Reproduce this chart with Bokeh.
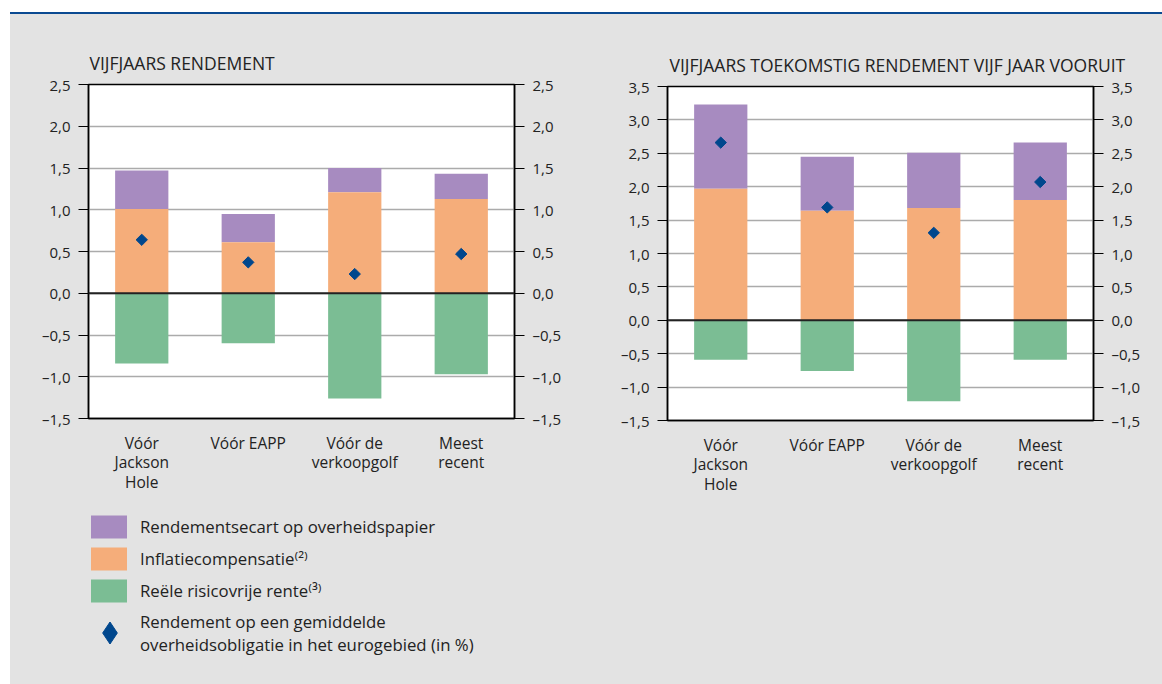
import numpy as np
from bokeh.plotting import figure
from bokeh.models import (ColumnDataSource, FactorRange, Range1d, LinearAxis, FixedTicker,
                          CustomJSTickFormatter, Span, Legend, LegendItem, Spacer)
from bokeh.layouts import row, column
from bokeh.embed import file_html
from bokeh.resources import INLINE

# ---------------- data ----------------
categories = ["Vóór\nJackson\nHole", "Vóór EAPP", "Vóór de\nverkoopgolf", "Meest\nrecent"]

left_title = "VIJFJAARS RENDEMENT"
left_spread = [0.46, 0.34, 0.29, 0.30]
left_inflation = [1.01, 0.61, 1.21, 1.13]
left_real = [-0.84, -0.60, -1.26, -0.97]
left_yield = [0.64, 0.37, 0.23, 0.47]
left_ticks = [-1.5, -1.0, -0.5, 0.0, 0.5, 1.0, 1.5, 2.0, 2.5]

right_title = "VIJFJAARS TOEKOMSTIG RENDEMENT VIJF JAAR VOORUIT"
right_spread = [1.26, 0.81, 0.83, 0.86]
right_inflation = [1.97, 1.64, 1.68, 1.80]
right_real = [-0.59, -0.76, -1.21, -0.59]
right_yield = [2.66, 1.69, 1.31, 2.07]
right_ticks = [-1.5, -1.0, -0.5, 0.0, 0.5, 1.0, 1.5, 2.0, 2.5, 3.0, 3.5]

legend_labels = [
    "Rendementsecart op overheidspapier",
    "Inflatiecompensatie\u207d\u00b2\u207e",
    "Reële risicovrije rente\u207d\u00b3\u207e",
    "Rendement op een gemiddelde\noverheidsobligatie in het eurogebied (in %)",
]

# ---------------- style ----------------
PURPLE = "#a78bc0"
ORANGE = "#f5ad7a"
GREEN = "#7bbd94"
BLUE = "#00478d"
BG = "#e3e3e3"
TXT = "#222222"
FONT = "Open Sans"

fmt_code = "return tick.toFixed(1).replace('.', ',').replace('-', '\u2013');"


def make_source(spread, inflation, real, yld):
    infl = np.array(inflation)
    total = infl + np.array(spread)
    return ColumnDataSource(dict(x=categories, inflation=infl, total=total,
                                 real=real, yld=yld))


def add_marks(p, src, visible=True):
    r1 = p.vbar(x="x", bottom="inflation", top="total", width=0.5, source=src,
                fill_color=PURPLE, line_color=None, visible=visible)
    r2 = p.vbar(x="x", bottom=0, top="inflation", width=0.5, source=src,
                fill_color=ORANGE, line_color=None, visible=visible)
    r3 = p.vbar(x="x", bottom=0, top="real", width=0.5, source=src,
                fill_color=GREEN, line_color=None, visible=visible)
    return [r1, r2, r3]


def make_chart(title, src, ticks, borders, title_offset):
    bl, br, bt, bb = borders
    p = figure(x_range=FactorRange(*categories), y_range=Range1d(ticks[0], ticks[-1]),
               frame_width=426, frame_height=334,
               min_border_left=bl, min_border_right=br, min_border_top=bt, min_border_bottom=bb,
               output_backend="svg", toolbar_location=None,
               background_fill_color="white", border_fill_color=BG,
               outline_line_color="black", outline_line_width=1.5)
    p.title.text = title
    p.title.align = "left"
    p.title.text_font = FONT
    p.title.text_font_size = "17.5px"
    p.title.text_font_style = "normal"
    p.title.text_color = TXT
    p.title.standoff = 19
    p.title.offset = title_offset

    add_marks(p, src)
    p.add_layout(Span(location=0, dimension="width", line_color="#222222", line_width=2))
    p.scatter(x="x", y="yld", source=src, marker="square", angle=np.pi / 4, size=8,
              fill_color=BLUE, line_color=BLUE)

    p.xgrid.grid_line_color = None
    p.ygrid.ticker = FixedTicker(ticks=ticks)
    p.ygrid.grid_line_color = "#ababab"
    p.ygrid.grid_line_width = 1.5

    yl = p.yaxis[0]
    yr = LinearAxis()
    p.add_layout(yr, "right")
    for ax in (yl, yr):
        ax.ticker = FixedTicker(ticks=ticks)
        ax.formatter = CustomJSTickFormatter(code=fmt_code)
        ax.axis_line_color = "black"
        ax.axis_line_width = 1.5
        ax.major_tick_line_color = "black"
        ax.major_tick_line_width = 1
        ax.major_tick_out = 10
        ax.major_tick_in = 0
        ax.minor_tick_line_color = None
        ax.major_label_text_font = FONT
        ax.major_label_text_font_size = "15px"
        ax.major_label_text_color = TXT
        ax.major_label_standoff = 8

    xa = p.xaxis[0]
    xa.axis_line_color = "black"
    xa.axis_line_width = 1.5
    xa.major_tick_line_color = None
    xa.minor_tick_line_color = None
    xa.major_label_text_font = FONT
    xa.major_label_text_font_size = "15.5px"
    xa.major_label_text_color = TXT
    xa.major_label_text_line_height = 0.9
    xa.major_label_standoff = 7
    return p


left_src = make_source(left_spread, left_inflation, left_real, left_yield)
right_src = make_source(right_spread, right_inflation, right_real, right_yield)
left = make_chart(left_title, left_src, left_ticks, (78, 76, 70, 81), 1)
right = make_chart(right_title, right_src, right_ticks, (77, 69, 72, 264), 2)

# ---------------- legend panel ----------------
lf = figure(width=580, height=185, x_range=FactorRange(*categories), y_range=Range1d(0, 1),
            x_axis_type=None, y_axis_type=None, min_border=0,
            output_backend="svg", toolbar_location=None,
            background_fill_color=BG, border_fill_color=BG, outline_line_color=None)
lf.xgrid.grid_line_color = None
lf.ygrid.grid_line_color = None
proxies = add_marks(lf, left_src, visible=False)
proxies.append(lf.scatter(x="x", y="yld", source=left_src, marker="diamond",
                          fill_color=BLUE, line_color=BLUE, visible=False))


def style_legend(lg, gw, gh, spacing, standoff, loc):
    lg.location = loc
    lg.orientation = "vertical"
    lg.glyph_width = gw
    lg.glyph_height = gh
    lg.spacing = spacing
    lg.label_standoff = standoff
    lg.padding = 0
    lg.margin = 0
    lg.background_fill_alpha = 0
    lg.border_line_alpha = 0
    lg.inactive_fill_alpha = 0
    lg.label_text_font = FONT
    lg.label_text_font_size = "16.8px"
    lg.label_text_color = TXT
    lg.label_text_line_height = 1.0


leg1 = Legend(items=[LegendItem(label=legend_labels[i], renderers=[proxies[i]]) for i in range(3)])
style_legend(leg1, 45, 29, 3, 9, (-2, 79))
lf.add_layout(leg1)
leg2 = Legend(items=[LegendItem(label=legend_labels[3], renderers=[proxies[3]])])
style_legend(leg2, 55, 55, 0, 3, (-6, 24))
lf.add_layout(leg2)

blue_bar = Spacer(width=1152, height=2, styles={"background-color": "#0b4a92"})
charts = row(column(left, lf), right, styles={"background-color": BG})
layout = column(Spacer(width=1162, height=12),
                row(Spacer(width=10, height=672), column(blue_bar, charts)))

open("out.html", "w").write(file_html(layout, INLINE))
